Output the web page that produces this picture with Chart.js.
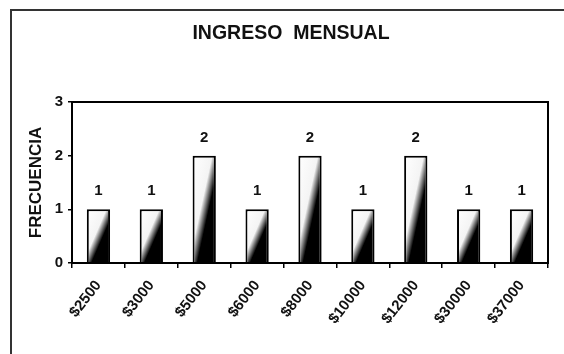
<!DOCTYPE html>
<html>
<head>
<meta charset="utf-8">
<script src="https://cdn.jsdelivr.net/npm/chart.js@4/dist/chart.umd.min.js"></script>
<style>
  html, body { margin: 0; padding: 0; background: #fff; }
  #wrap { width: 564px; height: 354px; }
</style>
</head>
<body>
<div id="wrap"><canvas id="barChart" width="564" height="354"></canvas></div>
<script>
// monthly income brackets and how many fall in each
const incomeLabels = ['$2500', '$3000', '$5000', '$6000', '$8000', '$10000', '$12000', '$30000', '$37000'];
const frequency = [1, 1, 2, 1, 2, 1, 2, 1, 1];
const yMax = 3;
const chartTitle = 'INGRESO  MENSUAL';
const yTitle = 'FRECUENCIA';

const FONT = "'Liberation Sans', Arial, sans-serif";
const BAR_PCT = 0.44;

// white top-left -> black bottom-right, like the old Excel "diagonal" fill
function diagonalFill(ctx) {
  const chart = ctx.chart;
  if (!chart.chartArea) return '#777';
  const xs = chart.scales.x, ys = chart.scales.y;
  const val = frequency[ctx.dataIndex];
  const w = xs.width / incomeLabels.length * BAR_PCT;
  const top = ys.getPixelForValue(val);
  const bottom = ys.getPixelForValue(0);
  const h = bottom - top;
  const cx = xs.getPixelForValue(ctx.dataIndex);
  const cy = (top + bottom) / 2;
  const k = w * h / (h * h + w * w);
  const g = chart.ctx.createLinearGradient(cx - h * k, cy - w * k, cx + h * k, cy + w * k);
  g.addColorStop(0, '#ffffff');
  g.addColorStop(0.42, '#f4f4f4');
  g.addColorStop(0.6, '#000000');
  g.addColorStop(1, '#000000');
  return g;
}

const framePlugin = {
  id: 'frame',
  beforeDraw(chart) {
    const c = chart.ctx;
    c.save();
    c.fillStyle = '#fff';
    c.fillRect(0, 0, chart.width, chart.height);
    // outer chart border (only left/top show in the scan)
    c.strokeStyle = '#333';
    c.lineWidth = 2;
    c.beginPath();
    c.moveTo(11, chart.height);
    c.lineTo(11, 10);
    c.lineTo(chart.width, 10);
    c.stroke();
    // title
    c.fillStyle = '#111';
    c.font = 'bold 19.5px ' + FONT;
    c.textAlign = 'center';
    c.textBaseline = 'middle';
    c.fillText(chartTitle, 291, 34);
    c.restore();
  },
  afterDatasetsDraw(chart) {
    const c = chart.ctx;
    const a = chart.chartArea;
    c.save();
    c.strokeStyle = '#000';
    c.lineWidth = 2;
    c.strokeRect(a.left, a.top, a.right - a.left, a.bottom - a.top);
    // value labels over the bars
    c.fillStyle = '#111';
    c.font = 'bold 15px ' + FONT;
    c.textAlign = 'center';
    c.textBaseline = 'middle';
    chart.getDatasetMeta(0).data.forEach((bar, i) => {
      c.fillText(String(frequency[i]), bar.x, bar.y - 18);
    });
    c.restore();
  }
};

const ctx = document.getElementById('barChart').getContext('2d');
const myChart = new Chart(ctx, {
  type: 'bar',
  data: {
    labels: incomeLabels,
    datasets: [{
      label: 'Frecuencia',
      data: frequency,
      backgroundColor: diagonalFill,
      borderColor: '#000',
      borderWidth: 2,
      borderSkipped: 'start',
      barPercentage: BAR_PCT,
      categoryPercentage: 1
    }]
  },
  options: {
    responsive: false,
    animation: false,
    layout: { padding: { top: 102, left: 16, right: 16, bottom: 0 } },
    plugins: {
      legend: { display: false },
      title: { display: false },
      tooltip: { enabled: false }
    },
    scales: {
      x: {
        afterFit: s => { s.height = 91; },
        grid: { drawOnChartArea: false, drawTicks: true, tickLength: 5, color: '#000', lineWidth: 1.5, offset: true },
        border: { display: true, color: '#000', width: 2 },
        ticks: {
          minRotation: 52, maxRotation: 52, padding: 9, color: '#111',
          font: { family: FONT, size: 15, weight: 'bold' }
        }
      },
      y: {
        min: 0, max: yMax,
        afterFit: s => { s.width = 56; },
        grid: { drawOnChartArea: false, drawTicks: true, tickLength: 4, color: '#000', lineWidth: 1.5 },
        border: { display: true, color: '#000', width: 2 },
        ticks: {
          stepSize: 1, padding: 5, color: '#111',
          font: { family: FONT, size: 15, weight: 'bold' }
        },
        title: {
          display: true, text: yTitle, color: '#111',
          padding: { top: 10, bottom: 0 },
          font: { family: FONT, size: 17, weight: 'bold' }
        }
      }
    }
  },
  plugins: [framePlugin]
});
</script>
</body>
</html>
